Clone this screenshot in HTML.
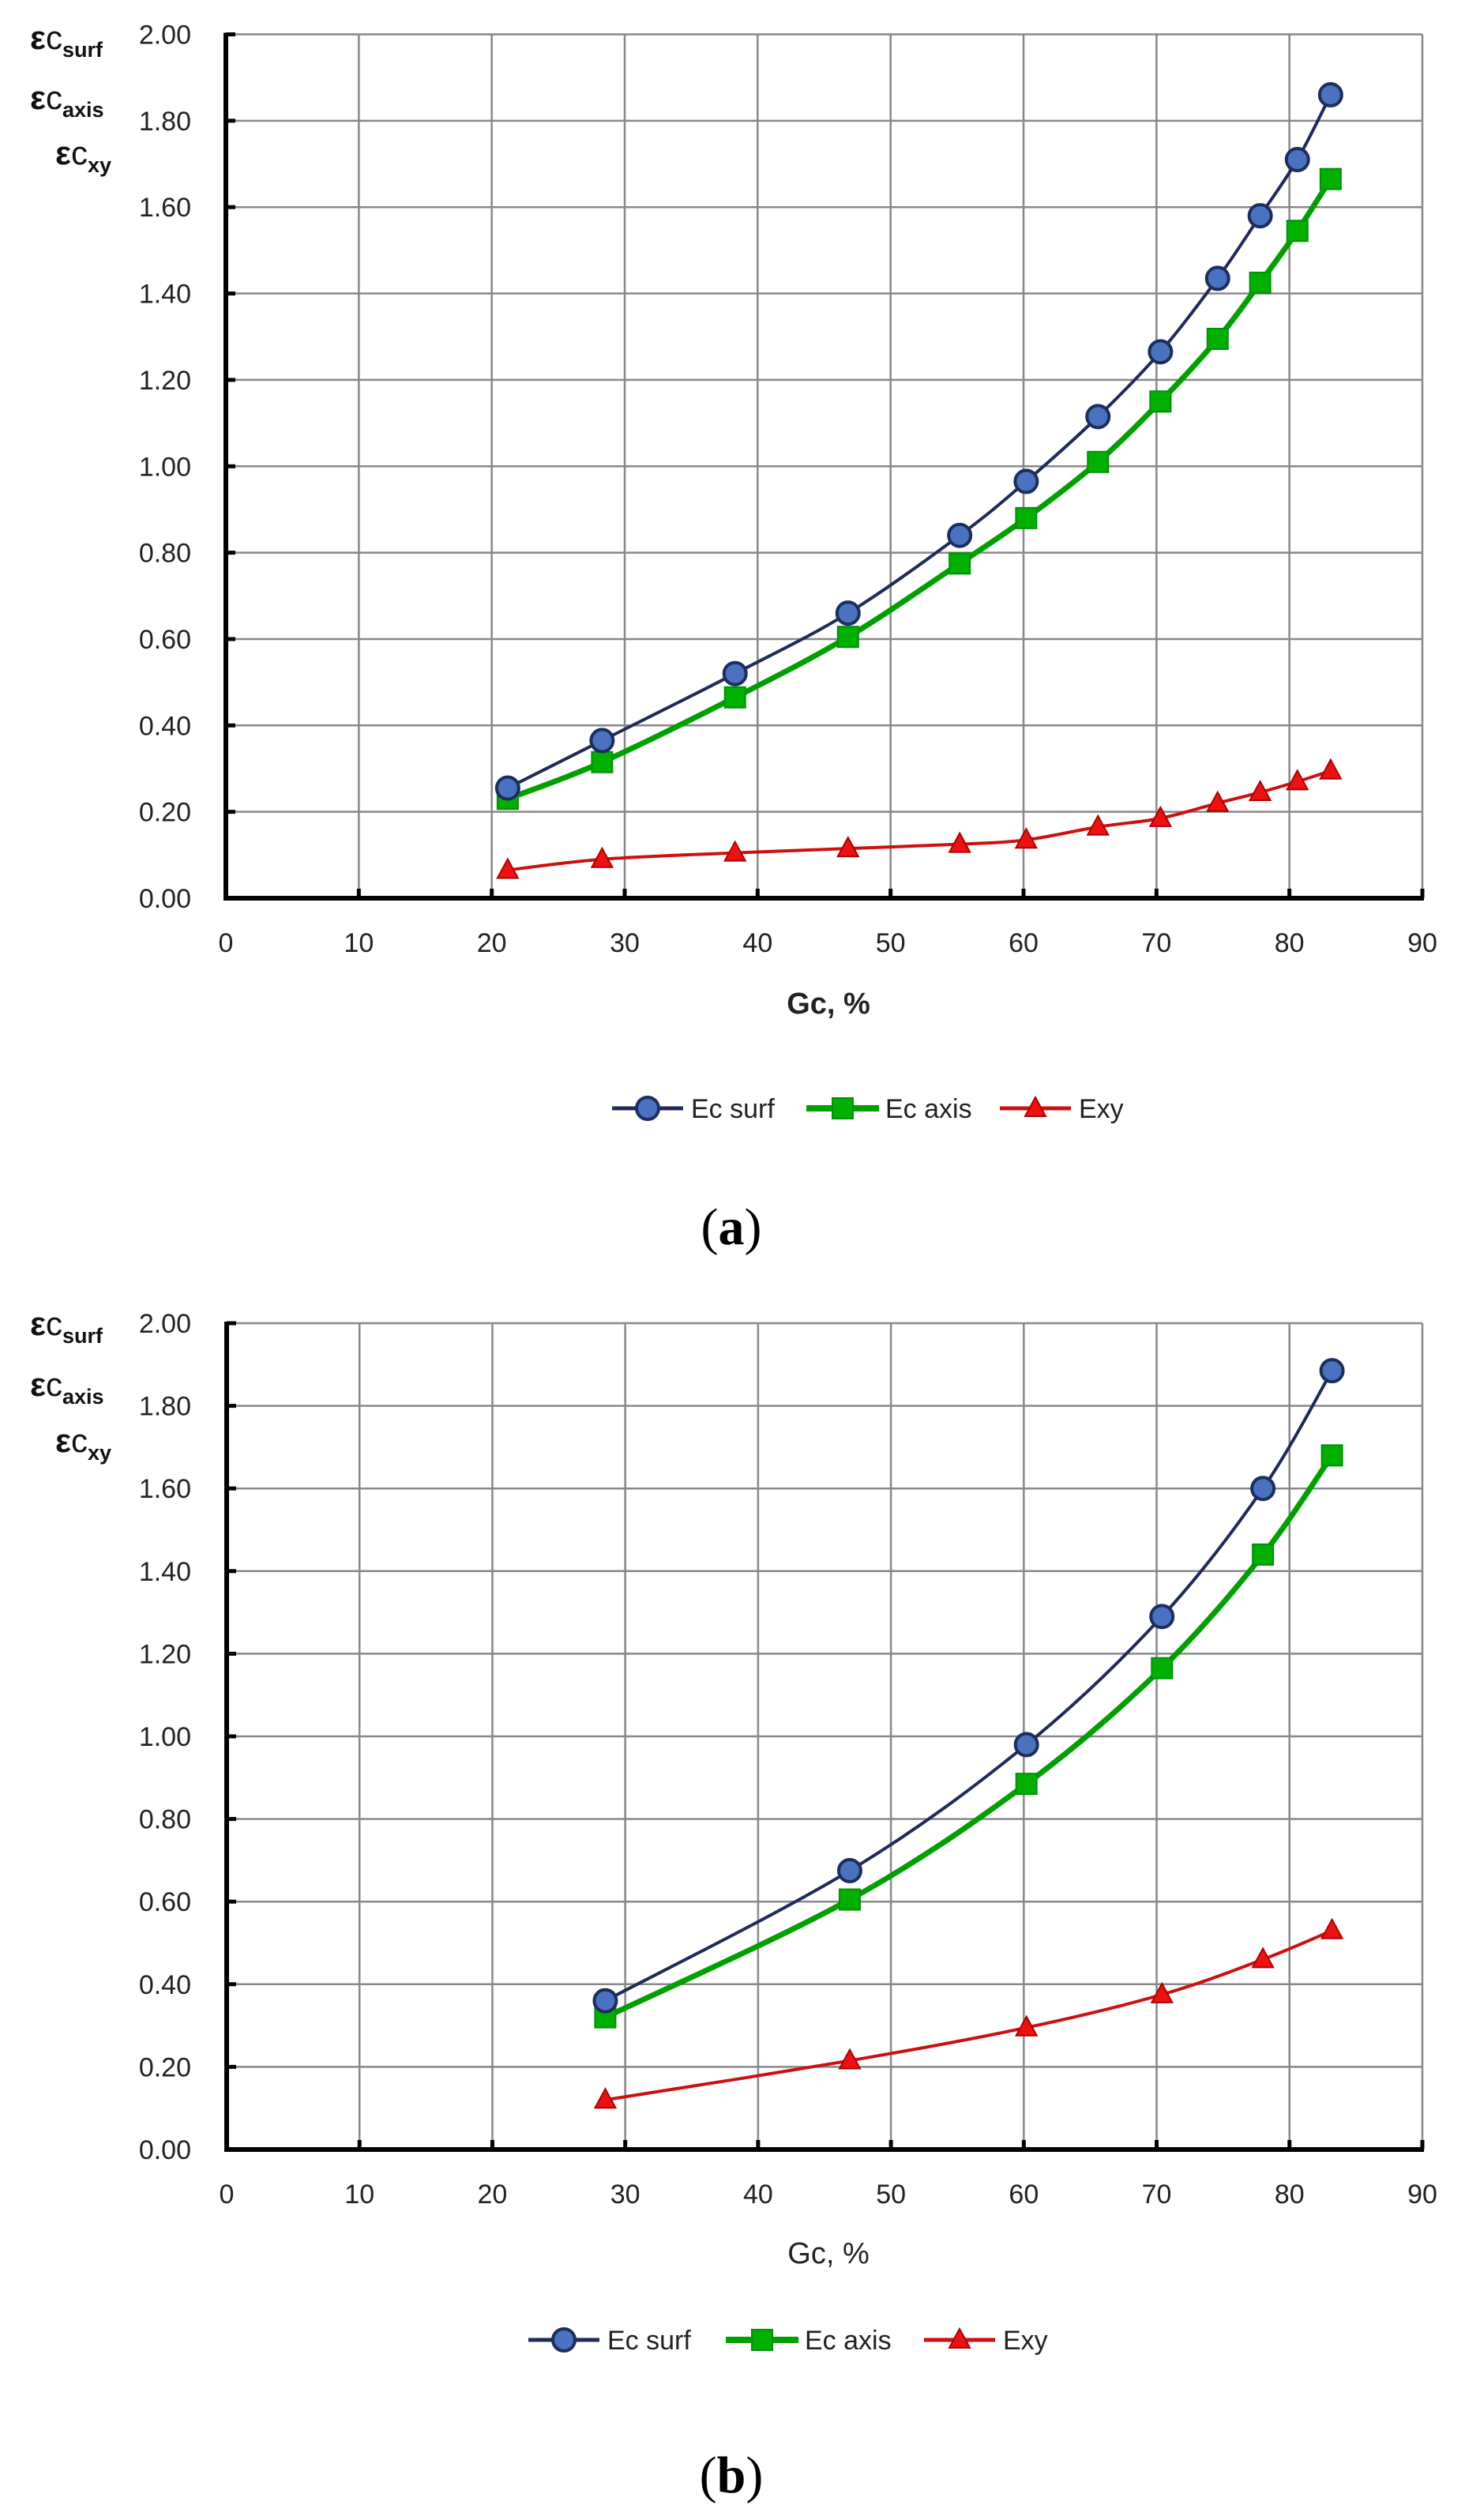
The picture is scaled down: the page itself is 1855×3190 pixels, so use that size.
<!DOCTYPE html>
<html><head><meta charset="utf-8"><style>
html,body{margin:0;padding:0;background:#fff;width:1855px;height:3190px;overflow:hidden}
svg{display:block}
</style></head><body>
<svg id="s" width="1855" height="3190" xmlns="http://www.w3.org/2000/svg" font-family="Liberation Sans, DejaVu Sans, sans-serif"></svg>
<script>
const S=document.getElementById('s');let h='';
function chart(o){
 const X=v=>o.x0+v*(o.x1-o.x0)/90, Y=v=>o.y0-v*(o.y0-o.yt)/2;
 for(let i=1;i<=9;i++)h+=`<line x1="${X(i*10)}" y1="${o.yt}" x2="${X(i*10)}" y2="${o.y0}" stroke="#888" stroke-width="2.5"/>`;
 for(let i=1;i<=10;i++)h+=`<line x1="${o.x0}" y1="${Y(i*0.2)}" x2="${o.x1}" y2="${Y(i*0.2)}" stroke="#888" stroke-width="2.5"/>`;
 h+=`<line x1="${o.x0}" y1="${o.yt-2}" x2="${o.x0}" y2="${o.y0+3}" stroke="#000" stroke-width="6"/>`;
 h+=`<line x1="${o.x0-3}" y1="${o.y0}" x2="${o.x1+2}" y2="${o.y0}" stroke="#000" stroke-width="6"/>`;
 for(let i=0;i<=10;i++){h+=`<line x1="${o.x0}" y1="${Y(i*0.2)}" x2="${o.x0+12}" y2="${Y(i*0.2)}" stroke="#000" stroke-width="5"/>`;
  h+=`<text x="242" y="${Y(i*0.2)+12}" font-size="34" text-anchor="end" fill="#222">${(i*0.2).toFixed(2)}</text>`;}
 for(let i=0;i<=9;i++){h+=`<line x1="${X(i*10)}" y1="${o.y0}" x2="${X(i*10)}" y2="${o.y0-12}" stroke="#000" stroke-width="5"/>`;
  h+=`<text x="${X(i*10)}" y="${o.y0+68}" font-size="34" text-anchor="middle" fill="#222">${i*10}</text>`;}
 h+=`<text x="1049" y="${o.gy}" font-size="38" text-anchor="middle" font-weight="${o.gb}" fill="#222">Gc, %</text>`;
 const lab=[['surf',o.l[0]],['axis',o.l[1]],['xy',o.l[2]]];
 lab.forEach(([s,y],k)=>{h+=`<text x="${k==2?70:38}" y="${y}" font-size="42" font-weight="bold" fill="#111">ε<tspan font-weight="normal">c</tspan><tspan font-size="27" dy="10">${s}</tspan></text>`;});
 function path(xs,ys){const p=xs.map((x,i)=>[X(x),Y(ys[i])]);let d=`M${p[0][0]},${p[0][1]}`;
  for(let i=0;i<p.length-1;i++){const a=p[i-1]||p[i],b=p[i],c=p[i+1],e=p[i+2]||c;
   d+=` C${b[0]+(c[0]-a[0])/6},${b[1]+(c[1]-a[1])/6} ${c[0]-(e[0]-b[0])/6},${c[1]-(e[1]-b[1])/6} ${c[0]},${c[1]}`;}return [d,p];}
 const [d1,p1]=path(o.xs,o.s),[d2,p2]=path(o.xs,o.a),[d3,p3]=path(o.xs,o.e);
 h+=`<path d="${d3}" fill="none" stroke="#cc1010" stroke-width="4"/>`;
 h+=`<path d="${d2}" fill="none" stroke="#00a000" stroke-width="7"/>`;
 h+=`<path d="${d1}" fill="none" stroke="#1f2a5a" stroke-width="4"/>`;
 p3.forEach(([x,y])=>h+=tri(x,y));p2.forEach(([x,y])=>h+=sq(x,y));p1.forEach(([x,y])=>h+=circ(x,y));
 const L=o.leg;
 h+=`<line x1="${L[0]}" y1="${o.ly}" x2="${L[0]+90}" y2="${o.ly}" stroke="#1f2a5a" stroke-width="5"/>`+circ(L[0]+45,o.ly)+`<text x="${L[0]+100}" y="${o.ly+12}" font-size="34" fill="#222">Ec surf</text>`;
 h+=`<line x1="${L[1]}" y1="${o.ly}" x2="${L[1]+92}" y2="${o.ly}" stroke="#00a000" stroke-width="8"/>`+sq(L[1]+46,o.ly)+`<text x="${L[1]+100}" y="${o.ly+12}" font-size="34" fill="#222">Ec axis</text>`;
 h+=`<line x1="${L[2]}" y1="${o.ly}" x2="${L[2]+90}" y2="${o.ly}" stroke="#cc1010" stroke-width="5"/>`+tri(L[2]+45,o.ly)+`<text x="${L[2]+100}" y="${o.ly+12}" font-size="34" fill="#222">Exy</text>`;
 h+=`<text x="926" y="${o.cy}" font-size="66" text-anchor="middle" font-family="Liberation Serif, serif" fill="#000">(<tspan font-weight="bold">${o.c}</tspan>)</text>`;
}
function circ(x,y){return `<circle cx="${x}" cy="${y}" r="14" fill="#4a72c0" stroke="#1c2e5c" stroke-width="4"/>`}
function sq(x,y){return `<rect x="${x-13}" y="${y-13}" width="26" height="26" fill="#00b000" stroke="#00900a" stroke-width="2"/>`}
function tri(x,y){return `<polygon points="${x},${y-14} ${x+13},${y+10} ${x-13},${y+10}" fill="#ee1111" stroke="#b00000" stroke-width="2"/>`}
chart({x0:286,x1:1801,yt:43.5,y0:1137,gy:1283,gb:'bold',l:[62,138,208],ly:1403,leg:[775,1021,1266],cy:1575,c:'a',
 xs:[21.2,28.3,38.3,46.8,55.2,60.2,65.6,70.3,74.6,77.8,80.6,83.1],
 s:[0.255,0.365,0.52,0.66,0.84,0.965,1.115,1.265,1.435,1.58,1.71,1.86],
 a:[0.23,0.315,0.465,0.605,0.775,0.88,1.01,1.15,1.295,1.425,1.545,1.665],
 e:[0.065,0.09,0.105,0.115,0.125,0.135,0.165,0.185,0.22,0.245,0.27,0.295]});
chart({x0:287,x1:1801,yt:1675,y0:2721,gy:2865,gb:'normal',l:[1690,1767,1838],ly:2962,leg:[669,919,1170],cy:3155,c:'b',
 xs:[28.5,46.9,60.2,70.4,78.0,83.2],
 s:[0.36,0.675,0.98,1.29,1.6,1.885],
 a:[0.32,0.605,0.885,1.165,1.44,1.68],
 e:[0.12,0.215,0.295,0.375,0.46,0.53]});
S.innerHTML=h;
</script>
</body></html>
